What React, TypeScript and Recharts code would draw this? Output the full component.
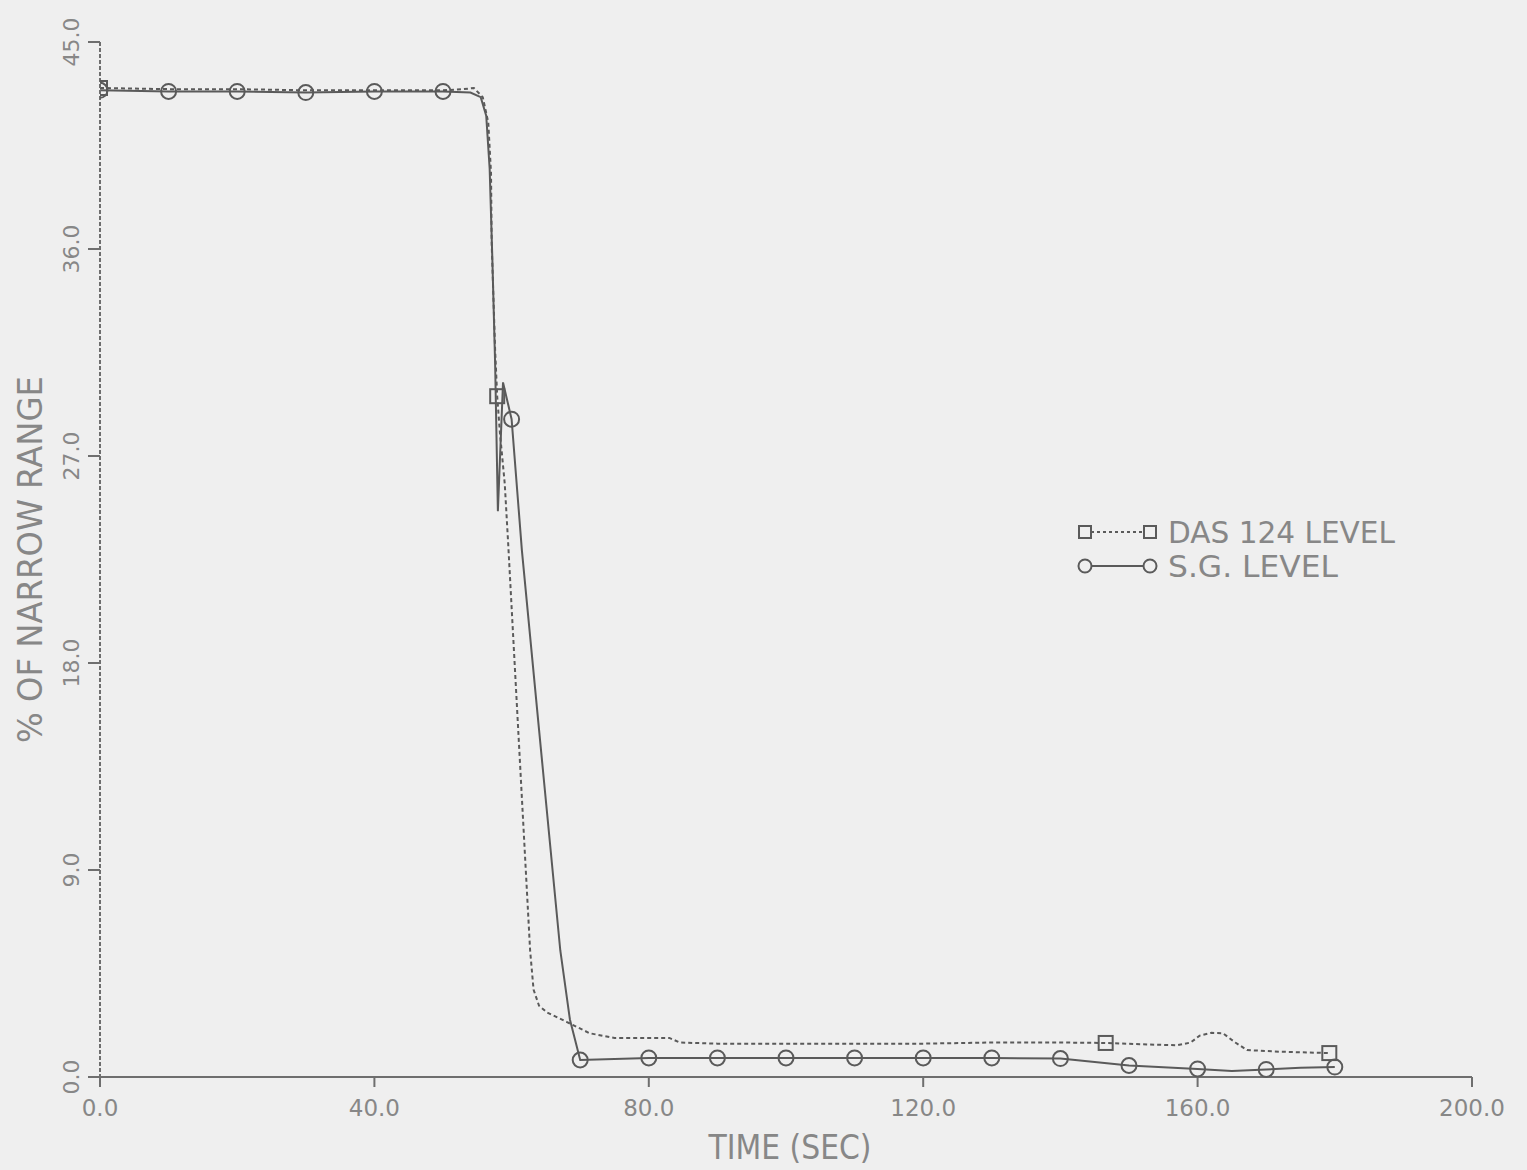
import React from 'react';
import { LineChart, Line, XAxis, YAxis, Legend, Label } from 'recharts';

// Time axis (s) and level axis (% of narrow range)
const timeTicks = [0, 40, 80, 120, 160, 200];
const levelTicks = [0, 9, 18, 27, 36, 45];

// DAS 124 level trace
const dasTime = [
  0, 10, 20, 30, 40, 50, 53, 54.5, 55.8, 56.6, 57.0, 57.1, 57.6, 57.9, 58.3, 59.0, 59.5, 61.0,
  62.7, 63.2, 64.0, 65.2, 68.0, 71.4, 75, 83, 84.5, 90, 100, 110, 120, 130, 140, 146.6, 152, 157,
  159, 160.3, 162, 163.7, 165.5, 167.2, 172, 179.2,
];
const dasLevel = [
  43.0, 42.95, 42.95, 42.9, 42.9, 42.9, 42.95, 43.0, 42.6, 41.5, 39.3, 36.2, 31.6, 29.6, 28.0, 25.8, 23.2, 14.9,
  5.5, 3.8, 3.1, 2.8, 2.4, 1.9, 1.7, 1.7, 1.5, 1.45, 1.45, 1.45, 1.45, 1.5, 1.5, 1.48, 1.42, 1.38,
  1.5, 1.8, 1.92, 1.9, 1.5, 1.17, 1.1, 1.04,
];
const dasMarkAt = [0, 57.9, 146.6, 179.2];

// S.G. level trace
const sgTime = [
  0, 10, 20, 30, 40, 50, 54, 55.5, 56.3, 56.8, 57.2, 57.6, 58.0, 58.75, 60, 61.5, 64, 67.1,
  68.5, 70, 80, 90, 100, 110, 120, 130, 140, 145, 150, 155, 160, 165, 170, 175, 180,
];
const sgLevel = [
  42.9, 42.85, 42.85, 42.8, 42.85, 42.85, 42.8, 42.6, 41.8, 39.5, 35.5, 31.0, 24.6, 30.2, 28.6, 22.9, 15.1, 5.5,
  2.5, 0.74, 0.83, 0.83, 0.83, 0.83, 0.83, 0.83, 0.8, 0.65, 0.5, 0.42, 0.35, 0.26, 0.33, 0.4, 0.43,
];
const sgMarkAt = [0, 10, 20, 30, 40, 50, 60, 70, 80, 90, 100, 110, 120, 130, 140, 150, 160, 170, 180];

const dasRows = dasTime.map((t, i) => ({ t, level: dasLevel[i], mark: dasMarkAt.includes(t) }));
const sgRows = sgTime.map((t, i) => ({ t, level: sgLevel[i], mark: sgMarkAt.includes(t) }));

const INK = '#5a5a5a';
const AXIS = '#6e6e6e';
const TEXT = '#878787';
const FONT = '"DejaVu Sans", "Liberation Sans", sans-serif';

const SquareDot = (props: any) => {
  const { cx, cy, payload, index } = props;
  if (!payload?.mark || cx == null || cy == null) return <g key={`das-${index}`} />;
  return (
    <rect key={`das-${index}`} x={cx - 7} y={cy - 7} width={14} height={14}
      fill="none" stroke={INK} strokeWidth={2} />
  );
};

const CircleDot = (props: any) => {
  const { cx, cy, payload, index } = props;
  if (!payload?.mark || cx == null || cy == null) return <g key={`sg-${index}`} />;
  return <circle key={`sg-${index}`} cx={cx} cy={cy} r={7.5} fill="none" stroke={INK} strokeWidth={2} />;
};

const LevelTick = (props: any) => {
  const { x, y, payload } = props;
  return (
    <text x={x} y={y} transform={`rotate(-90, ${x}, ${y})`} textAnchor="middle" dy="0.36em"
      fill={TEXT} fontSize={22} fontFamily={FONT}>
      {Number(payload.value).toFixed(1)}
    </text>
  );
};

const TimeTick = (props: any) => {
  const { x, y, payload } = props;
  return (
    <text x={x} y={y} textAnchor="middle" dy="0.71em" fill={TEXT} fontSize={23} fontFamily={FONT}>
      {Number(payload.value).toFixed(1)}
    </text>
  );
};

const legendRows = [
  { name: 'DAS 124 LEVEL', dashed: true, width: 227 },
  { name: 'S.G. LEVEL', dashed: false, width: 170 },
];

const renderLegend = () => (
  <svg width={360} height={80}>
    {legendRows.map((row, i) => {
      const cy = 27 + i * 34;
      return (
        <g key={row.name}>
          <line x1={20} x2={85} y1={cy} y2={cy} stroke={INK} strokeWidth={2}
            strokeDasharray={row.dashed ? '3 3' : undefined} />
          {row.dashed ? (
            <>
              <rect x={14} y={cy - 6} width={12} height={12} fill="#efefef" stroke={INK} strokeWidth={2} />
              <rect x={79} y={cy - 6} width={12} height={12} fill="#efefef" stroke={INK} strokeWidth={2} />
            </>
          ) : (
            <>
              <circle cx={20} cy={cy} r={6.5} fill="#efefef" stroke={INK} strokeWidth={2} />
              <circle cx={85} cy={cy} r={6.5} fill="#efefef" stroke={INK} strokeWidth={2} />
            </>
          )}
          <text x={103} y={cy} dy="0.36em" fill={TEXT} fontSize={31} fontFamily={FONT}
            textLength={row.width} lengthAdjust="spacingAndGlyphs">
            {row.name}
          </text>
        </g>
      );
    })}
  </svg>
);

export default function App() {
  return (
    <div style={{ position: 'absolute', left: 0, top: 0, width: 1527, height: 1170, background: '#efefef' }}>
      <LineChart width={1527} height={1170} margin={{ top: 42, right: 55, bottom: 0, left: 0 }}>
        <XAxis
          dataKey="t"
          type="number"
          domain={[0, 200]}
          ticks={timeTicks}
          allowDataOverflow
          height={93}
          tickSize={10}
          tickMargin={13}
          tick={<TimeTick />}
          axisLine={{ stroke: AXIS, strokeWidth: 2 }}
          tickLine={{ stroke: AXIS, strokeWidth: 2 }}
        >
          <Label
            content={(p: any) => {
              const vb = p.viewBox || { x: 100, y: 1077, width: 1372 };
              return (
                <text x={vb.x + vb.width / 2 + 4} y={vb.y + 82} textAnchor="middle" fill={TEXT}
                  fontSize={34} fontFamily={FONT} textLength={163} lengthAdjust="spacingAndGlyphs">
                  TIME (SEC)
                </text>
              );
            }}
          />
        </XAxis>
        <YAxis
          type="number"
          domain={[0, 45]}
          ticks={levelTicks}
          width={100}
          tickSize={12}
          tickMargin={17}
          tick={<LevelTick />}
          axisLine={{ stroke: AXIS, strokeWidth: 2, strokeDasharray: '4 2' }}
          tickLine={{ stroke: AXIS, strokeWidth: 2 }}
        >
          <Label
            content={(p: any) => {
              const vb = p.viewBox || { x: 0, y: 42, height: 1035 };
              const cx = vb.x + 30;
              const cy = vb.y + vb.height / 2;
              return (
                <text x={cx} y={cy} transform={`rotate(-90, ${cx}, ${cy})`} textAnchor="middle" dy="0.36em"
                  fill={TEXT} fontSize={34} fontFamily={FONT} textLength={367} lengthAdjust="spacingAndGlyphs">
                  % OF NARROW RANGE
                </text>
              );
            }}
          />
        </YAxis>
        <Legend
          layout="vertical"
          align="center"
          verticalAlign="middle"
          content={renderLegend}
          wrapperStyle={{ left: 1065, top: 505, width: 360, height: 80 }}
        />
        <Line
          data={dasRows}
          dataKey="level"
          name="DAS 124 LEVEL"
          type="linear"
          stroke={INK}
          strokeWidth={2}
          strokeDasharray="4 3"
          dot={SquareDot}
          activeDot={false}
          isAnimationActive={false}
        />
        <Line
          data={sgRows}
          dataKey="level"
          name="S.G. LEVEL"
          type="linear"
          stroke={INK}
          strokeWidth={2}
          dot={CircleDot}
          activeDot={false}
          isAnimationActive={false}
        />
      </LineChart>
    </div>
  );
}
